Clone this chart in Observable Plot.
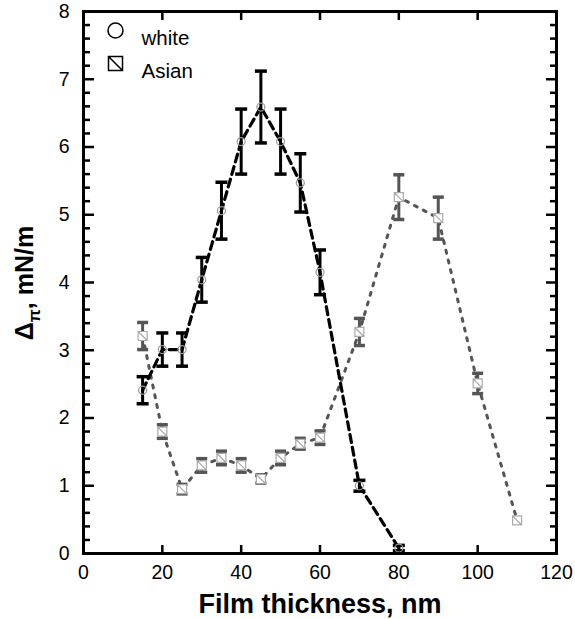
<!DOCTYPE html>
<html>
<head>
<meta charset="utf-8">
<script src="https://cdn.jsdelivr.net/npm/d3@7"></script>
<script src="https://cdn.jsdelivr.net/npm/@observablehq/plot@0.6"></script>
<style>
  html, body { margin: 0; padding: 0; background: #fff; }
  #chart svg { font-family: "Liberation Sans", Arial, sans-serif; }
</style>
</head>
<body>
<div id="chart"></div>
<script>
// White film data (black dashed line)
const whiteX = [15, 20, 25, 30, 35, 40, 45, 50, 55, 60, 70, 80];
const whiteY = [2.41, 3.01, 3.01, 4.04, 5.06, 6.08, 6.59, 6.08, 5.47, 4.15, 1.0, 0.08];
const whiteErr = [0.2, 0.245, 0.245, 0.33, 0.42, 0.48, 0.53, 0.48, 0.43, 0.33, 0.08, 0.04];

// Asian film data (grey dotted line)
const asianX = [15, 20, 25, 30, 35, 40, 45, 50, 55, 60, 70, 80, 90, 100, 110];
const asianY = [3.21, 1.8, 0.95, 1.3, 1.41, 1.3, 1.1, 1.41, 1.62, 1.71, 3.27, 5.26, 4.95, 2.51, 0.49];
const asianErr = [0.2, 0.1, 0.07, 0.1, 0.1, 0.1, 0.06, 0.1, 0.08, 0.1, 0.2, 0.33, 0.31, 0.15, 0];

// Axis ticks
const xTicks = [0, 20, 40, 60, 80, 100, 120];
const yTicks = [0, 1, 2, 3, 4, 5, 6, 7, 8];
const yMinorTicks = d3.range(0, 8.001, 0.2).map(v => +v.toFixed(1)).filter(v => !Number.isInteger(v));

const legendLabels = ["white", "Asian"];

const white = whiteX.map((x, i) => ({x, y: whiteY[i], e: whiteErr[i]}));
const asian = asianX.map((x, i) => ({x, y: asianY[i], e: asianErr[i]}));

const capSymbol = { draw(ctx) { ctx.moveTo(-6, 0); ctx.lineTo(6, 0); } };
const capSymbolA = { draw(ctx) { ctx.moveTo(-5.5, 0); ctx.lineTo(5.5, 0); } };
const sqDiag = { draw(ctx) { ctx.rect(-4.5, -4.5, 9, 9); ctx.moveTo(-4.5, -4.5); ctx.lineTo(4.5, 4.5); } };
const sqDiagBig = { draw(ctx) { ctx.rect(-7, -7, 14, 14); ctx.moveTo(-7, -7); ctx.lineTo(7, 7); } };

const asianErrData = asian.filter(d => d.e > 0);
const intFmt = d => String(d);

const chart = Plot.plot({
  width: 575,
  height: 619,
  marginLeft: 83,
  marginRight: 19,
  marginTop: 11,
  marginBottom: 66,
  style: { fontFamily: "Liberation Sans, Arial, sans-serif", background: "#fff" },
  x: { domain: [0, 120] },
  y: { domain: [0, 8] },
  marks: [
    // tick labels
    Plot.axisX(xTicks, { anchor: "bottom", tickSize: 0, tickPadding: 12, fontSize: 19.5, label: null, color: "#000", tickFormat: intFmt }),
    Plot.axisY(yTicks, { anchor: "left", tickSize: 0, tickPadding: 14, fontSize: 19.5, label: null, color: "#000", tickFormat: intFmt }),
    // inward ticks
    Plot.axisX(xTicks, { anchor: "bottom", tickSize: 8, dy: -8, tickFormat: () => "", label: null, strokeWidth: 2.5, stroke: "#000" }),
    Plot.axisX(xTicks, { anchor: "top", tickSize: 8, dy: 8, tickFormat: () => "", label: null, strokeWidth: 2.5, stroke: "#000" }),
    Plot.axisY(yTicks, { anchor: "left", tickSize: 11, dx: 11, tickFormat: () => "", label: null, strokeWidth: 2.5, stroke: "#000" }),
    Plot.axisY(yMinorTicks, { anchor: "left", tickSize: 7, dx: 7, tickFormat: () => "", label: null, strokeWidth: 2.5, stroke: "#000" }),
    Plot.axisY(yTicks, { anchor: "right", tickSize: 11, dx: -11, tickFormat: () => "", label: null, strokeWidth: 2.5, stroke: "#000" }),
    Plot.axisY(yMinorTicks, { anchor: "right", tickSize: 7, dx: -7, tickFormat: () => "", label: null, strokeWidth: 2.5, stroke: "#000" }),

    // Asian series
    Plot.line(asian, { x: "x", y: "y", stroke: "#555", strokeWidth: 3, strokeDasharray: "3,7" }),
    Plot.ruleX(asianErrData, { x: "x", y1: d => d.y - d.e, y2: d => d.y + d.e, stroke: "#555", strokeWidth: 3 }),
    Plot.dot(asianErrData, { x: "x", y: d => d.y + d.e, symbol: capSymbolA, stroke: "#555", fill: "none", strokeWidth: 3.5 }),
    Plot.dot(asianErrData, { x: "x", y: d => d.y - d.e, symbol: capSymbolA, stroke: "#555", fill: "none", strokeWidth: 3.5 }),
    Plot.dot(asian, { x: "x", y: "y", symbol: sqDiag, stroke: "#aaa", fill: "#fff", strokeWidth: 1.2 }),

    // White series
    Plot.line(white, { x: "x", y: "y", stroke: "#000", strokeWidth: 3.2, strokeDasharray: "8,5" }),
    Plot.ruleX(white, { x: "x", y1: d => d.y - d.e, y2: d => d.y + d.e, stroke: "#000", strokeWidth: 3 }),
    Plot.dot(white, { x: "x", y: d => d.y + d.e, symbol: capSymbol, stroke: "#000", fill: "none", strokeWidth: 3.5 }),
    Plot.dot(white, { x: "x", y: d => d.y - d.e, symbol: capSymbol, stroke: "#000", fill: "none", strokeWidth: 3.5 }),
    Plot.dot(white, { x: "x", y: "y", r: 4, stroke: "#999", fill: "none", strokeWidth: 1.2 }),

    // Frame
    Plot.frame({ stroke: "#000", strokeWidth: 3 }),

    // Legend
    Plot.dot([legendLabels[0]], { frameAnchor: "top-left", dx: 32, dy: 19, r: 7.5, stroke: "#000", fill: "none", strokeWidth: 1.5 }),
    Plot.text([legendLabels[0]], { frameAnchor: "top-left", dx: 58, dy: 19, text: d => d, fontSize: 20.5, textAnchor: "start", fill: "#000" }),
    Plot.dot([legendLabels[1]], { frameAnchor: "top-left", dx: 32, dy: 52, symbol: sqDiagBig, stroke: "#000", fill: "none", strokeWidth: 1.5 }),
    Plot.text([legendLabels[1]], { frameAnchor: "top-left", dx: 58, dy: 52, text: d => d, fontSize: 20.5, textAnchor: "start", fill: "#000" }),

    // X axis title
    Plot.text(["Film thickness, nm"], { frameAnchor: "bottom", dy: 51, text: d => d, fontSize: 27, fontWeight: "bold", fill: "#000", lineAnchor: "middle" })
  ]
});

// Y axis title with subscript
const svg = d3.select(chart);
const t = svg.append("text")
  .attr("transform", "translate(33,283) rotate(-90)")
  .attr("text-anchor", "middle")
  .attr("font-family", "Liberation Sans, Arial, sans-serif")
  .attr("font-size", 25)
  .attr("font-weight", "bold")
  .attr("fill", "#000");
t.append("tspan").text("Δ");
t.append("tspan").attr("dy", 7).attr("font-size", 17).text("π");
t.append("tspan").attr("dy", -7).text(", mN/m");

document.getElementById("chart").appendChild(chart);
</script>
</body>
</html>
